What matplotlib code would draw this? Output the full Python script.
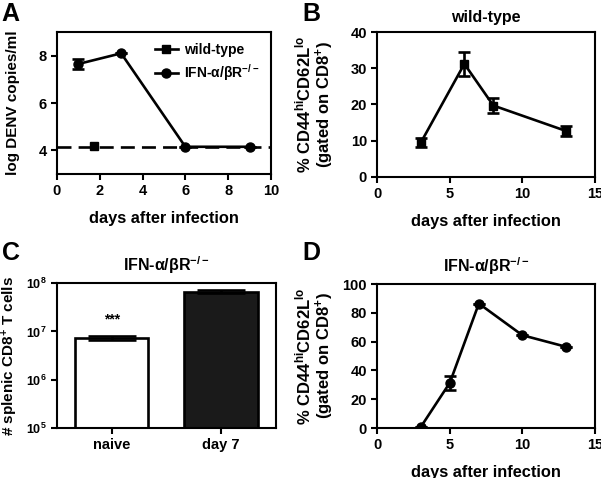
import numpy as np
import matplotlib.pyplot as plt
from matplotlib.lines import Line2D

plt.rcParams['font.family'] = ['Liberation Sans', 'DejaVu Sans']
plt.rcParams['font.weight'] = 'bold'
plt.rcParams['axes.labelweight'] = 'bold'
plt.rcParams['axes.titleweight'] = 'bold'
plt.rcParams['mathtext.fontset'] = 'custom'
plt.rcParams['mathtext.rm'] = 'Liberation Sans:bold'
plt.rcParams['mathtext.it'] = 'Liberation Sans:bold'
plt.rcParams['mathtext.bf'] = 'Liberation Sans:bold'

# panel A - viral load
ifn_days = [1, 3, 6, 9]
ifn_load = [7.65, 8.1, 4.15, 4.15]
ifn_err = [0.22, 0.0, 0.0, 0.0]
wt_days = [1.75]
wt_load = [4.2]
detect_limit = 4.15

# panel B - wild-type CD44hi CD62Llo
b_days = [3, 6, 8, 13]
b_pct = [9.5, 31.2, 19.7, 12.7]
b_err = [1.2, 3.3, 2.0, 1.3]

# panel C - splenic CD8 T cells
c_groups = ['naive', 'day 7']
c_cells = [7.3e6, 6.6e7]
c_err = [0.6e6, 0.5e7]

# panel D - IFN KO CD44hi CD62Llo
d_days = [3, 5, 7, 10, 13]
d_pct = [0.8, 31.5, 86.5, 64.5, 56.5]
d_err = [0, 4.8, 0, 0, 0]

ko = r'IFN-α/βR$^{-/-}$'
ylab_pct = '% CD44$^{hi}$CD62L$^{lo}$\n(gated on CD8$^{+}$)'

lw = 1.9
fs = 10.5
xl_fs = 11.8
fig = plt.figure(figsize=(6.01, 4.78), dpi=100)


def style(ax):
    for s in ax.spines.values():
        s.set_linewidth(1.5)
    ax.tick_params(width=1.5, length=4, labelsize=fs, direction='out')


axA = fig.add_axes([0.0948, 0.636, 0.356, 0.297])
axA.axhline(detect_limit, color='k', lw=lw, ls=(0, (5.3, 2.7)))
axA.errorbar(ifn_days, ifn_load, yerr=ifn_err, color='k', lw=lw, marker='o', ms=6.5,
             capsize=4.5, capthick=lw)
axA.plot(wt_days, wt_load, color='k', lw=lw, marker='s', ms=6, ls='none')
handles = [Line2D([], [], color='k', lw=lw, marker='s', ms=6),
           Line2D([], [], color='k', lw=lw, marker='o', ms=6.5)]
axA.legend(handles, ['wild-type', ko], loc='upper right', frameon=False, fontsize=10,
           handlelength=1.6, handletextpad=0.5, borderaxespad=0.4, labelspacing=0.35)
axA.set_xlim(0, 10)
axA.set_ylim(3, 9)
axA.set_xticks([0, 2, 4, 6, 8, 10])
axA.set_yticks([4, 6, 8])
axA.set_xlabel('days after infection', fontsize=xl_fs, labelpad=9)
axA.set_ylabel('log DENV copies/ml', fontsize=11)
axA.yaxis.set_label_coords(-0.173, 0.5)
style(axA)

axB = fig.add_axes([0.628, 0.630, 0.3616, 0.303])
axB.errorbar(b_days, b_pct, yerr=b_err, color='k', lw=lw, marker='s', ms=6,
             capsize=4.5, capthick=lw)
axB.set_xlim(0, 15)
axB.set_ylim(0, 40)
axB.set_xticks([0, 5, 10, 15])
axB.set_yticks([0, 10, 20, 30, 40])
axB.set_title('wild-type', fontsize=11.5, pad=7)
axB.set_xlabel('days after infection', fontsize=xl_fs, labelpad=9)
axB.set_ylabel(ylab_pct, fontsize=12, linespacing=1.0)
axB.yaxis.set_label_coords(-0.19, 0.5)
style(axB)

axC = fig.add_axes([0.0948, 0.1046, 0.364, 0.303])
xc = np.arange(len(c_groups))
axC.bar(xc, c_cells, width=0.67, color=['white', '#1a1a1a'], edgecolor='k', linewidth=lw,
        yerr=c_err, error_kw=dict(lw=lw, capsize=17, capthick=lw, ecolor='k'),
        log=True, bottom=1e5)
axC.text(xc[0], 1.25e7, '***', ha='center', va='bottom', fontsize=10)
axC.set_yscale('log')
axC.set_ylim(1e5, 1e8)
axC.set_xlim(-0.5, 1.5)
axC.set_xticks(xc)
axC.set_xticklabels(c_groups, fontsize=12.5)
axC.set_yticks([1e5, 1e6, 1e7, 1e8])
axC.set_yticklabels(['10$^{5}$', '10$^{6}$', '10$^{7}$', '10$^{8}$'])
axC.minorticks_off()
axC.set_title(ko, fontsize=11.5, pad=9)
axC.set_ylabel('# splenic CD8$^{+}$ T cells', fontsize=11)
axC.yaxis.set_label_coords(-0.169, 0.5)
style(axC)
axC.tick_params(axis='y', labelsize=9)

axD = fig.add_axes([0.628, 0.1046, 0.3616, 0.301])
axD.errorbar(d_days, d_pct, yerr=d_err, color='k', lw=lw, marker='o', ms=6.5,
             capsize=4.5, capthick=lw)
axD.set_xlim(0, 15)
axD.set_ylim(0, 100)
axD.set_xticks([0, 5, 10, 15])
axD.set_yticks([0, 20, 40, 60, 80, 100])
axD.set_title(ko, fontsize=11.5, pad=9)
axD.set_xlabel('days after infection', fontsize=xl_fs, labelpad=9)
axD.set_ylabel(ylab_pct, fontsize=12, linespacing=1.0)
axD.yaxis.set_label_coords(-0.19, 0.5)
style(axD)

for x, y, s in [(0.003, 0.995, 'A'), (0.503, 0.995, 'B'), (0.003, 0.495, 'C'), (0.503, 0.495, 'D')]:
    fig.text(x, y, s, fontsize=18, fontweight='bold', va='top', ha='left')

fig.savefig('out.png', dpi=100)
